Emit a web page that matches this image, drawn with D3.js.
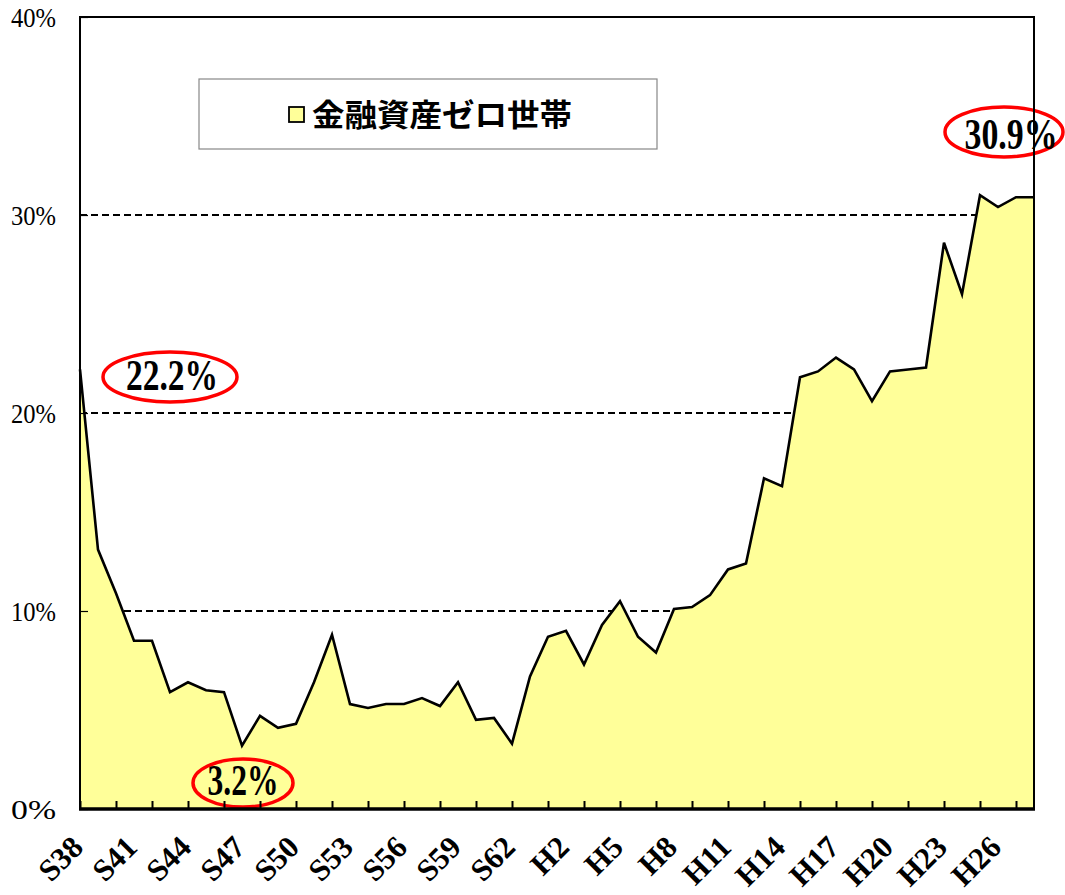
<!DOCTYPE html>
<html><head><meta charset="UTF-8">
<script src="https://d3js.org/d3.v7.min.js"></script>
<style>
body{margin:0;background:#fff;overflow:hidden}
svg{display:block}
.serif{font-family:"Liberation Serif","DejaVu Serif",serif}
</style></head><body><div id="chart"></div><script>
// years S38 (1963) .. H28 (2016)
const categories = ['S38','S39','S40','S41','S42','S43','S44','S45','S46','S47',
  'S48','S49','S50','S51','S52','S53','S54','S55','S56','S57','S58','S59','S60',
  'S61','S62','S63','H1','H2','H3','H4','H5','H6','H7','H8','H9','H10','H11',
  'H12','H13','H14','H15','H16','H17','H18','H19','H20','H21','H22','H23','H24',
  'H25','H26','H27','H28'];
const zeroAssets = [22.2,13.1,10.9,8.5,8.5,5.9,6.4,6.0,5.9,3.2,
  4.7,4.1,4.3,6.4,8.8,5.3,5.1,5.3,5.3,5.6,5.2,6.4,4.5,
  4.6,3.3,6.7,8.7,9.0,7.3,9.3,10.5,8.7,7.9,10.1,10.2,10.8,12.1,
  12.4,16.7,16.3,21.8,22.1,22.8,22.2,20.6,22.1,22.2,22.3,28.6,26.0,
  31.0,30.4,30.9,30.9];
const xTickLabels = ['S38','S41','S44','S47','S50','S53','S56','S59','S62',
  'H2','H5','H8','H11','H14','H17','H20','H23','H26'];
const yTicks = [0, 10, 20, 30, 40];
const gridTicks = [10, 20, 30];
const seriesName = '金融資産ゼロ世帯';
// highlighted values: [category, value]
const callouts = [['S38', 22.2], ['S47', 3.2], ['H28', 30.9]];

const W = 1065, H = 895;
const m = { top: 17, right: 31, bottom: 86, left: 80 };

const svg = d3.select('#chart').append('svg').attr('width', W).attr('height', H);

const x = d3.scalePoint().domain(categories).range([m.left, W - m.right]);
const y = d3.scaleLinear().domain([0, 40]).range([H - m.bottom, m.top]);
const data = categories.map((c, i) => ({ c, v: zeroAssets[i] }));

// dashed gridlines (behind the area)
svg.append('g').selectAll('line').data(gridTicks).join('line')
  .attr('x1', m.left).attr('x2', W - m.right)
  .attr('y1', d => y(d)).attr('y2', d => y(d))
  .attr('stroke', '#000').attr('stroke-width', 2).attr('stroke-dasharray', '7,4');

const area = d3.area().x(d => x(d.c)).y0(y(0)).y1(d => y(d.v));
const line = d3.line().x(d => x(d.c)).y(d => y(d.v));
svg.append('path').datum(data).attr('d', area).attr('fill', '#ffff99');
svg.append('path').datum(data).attr('d', line)
  .attr('fill', 'none').attr('stroke', '#000').attr('stroke-width', 2.6)
  .attr('stroke-linejoin', 'miter');

// callouts with red ellipses
const calloutPos = {
  S38: { cx: 170, cy: 377, rx: 67, ry: 25, tx: 172, ty: 390, len: 92 },
  S47: { cx: 243, cy: 783, rx: 50, ry: 24, tx: 243, ty: 795, len: 71 },
  H28: { cx: 1004, cy: 132, rx: 59, ry: 25, tx: 1011, ty: 149, len: 93 }
};
const cg = svg.append('g');
callouts.forEach(([c, v]) => {
  const p = calloutPos[c];
  cg.append('ellipse').attr('cx', p.cx).attr('cy', p.cy).attr('rx', p.rx).attr('ry', p.ry)
    .attr('fill', 'none').attr('stroke', '#ff0000').attr('stroke-width', 3.5);
  cg.append('text').attr('class', 'serif').attr('x', p.tx).attr('y', p.ty)
    .attr('text-anchor', 'middle').attr('font-size', 44).attr('font-weight', 'bold')
    .attr('textLength', p.len).attr('lengthAdjust', 'spacingAndGlyphs')
    .text(v.toFixed(1) + '%');
});

// y axis
const yAxis = svg.append('g').attr('transform', `translate(${m.left},0)`)
  .call(d3.axisLeft(y).tickValues(yTicks).tickFormat(d => d + '%').tickSize(-8).tickPadding(24));
yAxis.select('.domain').remove();
yAxis.selectAll('.tick line').attr('stroke', '#000').attr('stroke-width', 1.2);
yAxis.selectAll('.tick text').attr('class', 'serif').attr('font-size', 27).attr('fill', '#000')
  .attr('textLength', 45).attr('lengthAdjust', 'spacingAndGlyphs').attr('dy', '0.34em');

// x axis: ticks every 2 years, labels every 3 years
const xAxis = svg.append('g').attr('transform', `translate(0,${y(0)})`)
  .call(d3.axisBottom(x).tickValues(categories.filter((c, i) => i % 2 === 0)).tickSize(-8).tickFormat(''));
xAxis.select('.domain').remove();
xAxis.selectAll('.tick line').attr('stroke', '#000').attr('stroke-width', 2);

svg.append('g').selectAll('text').data(xTickLabels).join('text')
  .attr('class', 'serif')
  .attr('transform', d => `translate(${x(d) + 5},${y(0) + 40}) rotate(-45)`)
  .attr('text-anchor', 'end').attr('font-size', 31).attr('font-weight', 'bold')
  .text(d => d);

// plot frame
svg.append('rect').attr('x', m.left).attr('y', m.top)
  .attr('width', W - m.right - m.left).attr('height', y(0) - m.top)
  .attr('fill', 'none').attr('stroke', '#000').attr('stroke-width', 2);
svg.append('line').attr('x1', m.left - 1).attr('x2', W - m.right + 1)
  .attr('y1', y(0)).attr('y2', y(0)).attr('stroke', '#000').attr('stroke-width', 3.5);

// legend
const lg = svg.append('g');
lg.append('rect').attr('x', 199).attr('y', 79).attr('width', 458).attr('height', 70)
  .attr('fill', '#fff').attr('stroke', '#888').attr('stroke-width', 1.2);
lg.append('rect').attr('x', 289).attr('y', 107).attr('width', 15).attr('height', 15)
  .attr('fill', '#ffff99').attr('stroke', '#000').attr('stroke-width', 1.8);
lg.append('text').attr('x', 312).attr('y', 126)
  .attr('font-family', '"Noto Sans CJK JP", sans-serif').attr('font-weight', 'bold')
  .attr('font-size', 31).attr('textLength', 260).attr('lengthAdjust', 'spacingAndGlyphs')
  .text(seriesName);
</script></body></html>
